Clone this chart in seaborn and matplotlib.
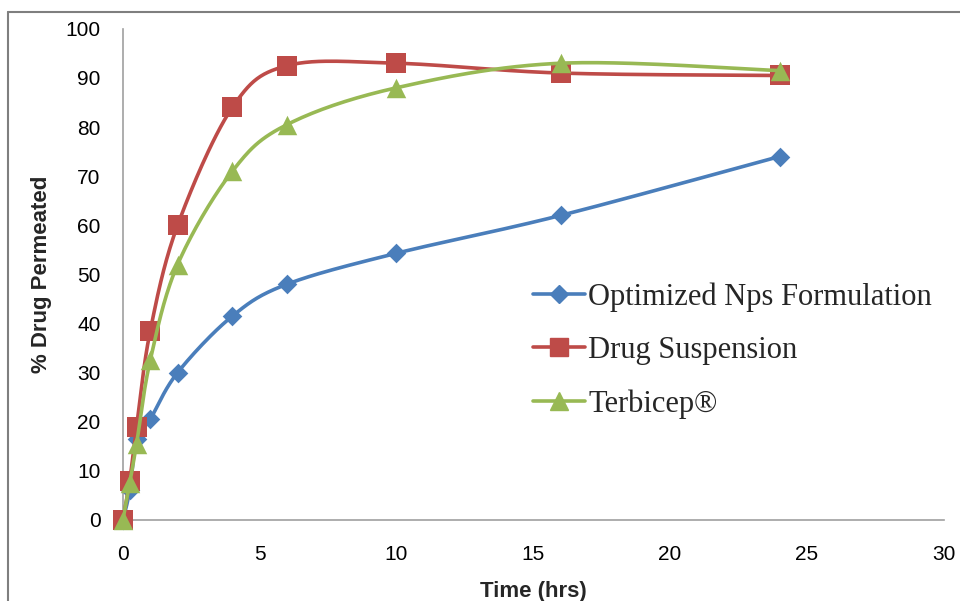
import numpy as np
import pandas as pd
import matplotlib
matplotlib.use("Agg")
import matplotlib.pyplot as plt
from matplotlib.lines import Line2D
import seaborn as sns

# Data
time_hrs = [0, 0.25, 0.5, 1, 2, 4, 6, 10, 16, 24]
optimized_nps = [0, 6, 16.5, 20.5, 30, 41.5, 48, 54.3, 62, 74]
drug_suspension = [0, 8, 19, 38.5, 60, 84, 92.5, 93, 91, 90.5]
terbicep = [0, 7.5, 15.5, 32.5, 52, 71, 80.5, 88, 93, 91.5]

series_names = ["Optimized Nps Formulation", "Drug Suspension", "Terbicep®"]
series_values = [optimized_nps, drug_suspension, terbicep]
colors = ["#4A7EBB", "#BE4B48", "#98B954"]
markers = ["D", "s", "^"]
marker_sizes = [10, 14, 14]


def excel_smooth(x, y, n=30):
    # Bezier smoothing similar to Excel's "smoothed line"
    x = np.asarray(x, float)
    y = np.asarray(y, float)
    px = np.concatenate([[x[0]], x, [x[-1]]])
    py = np.concatenate([[y[0]], y, [y[-1]]])
    t = np.linspace(0, 1, n)
    xs, ys = [], []
    for i in range(1, len(px) - 2):
        p0 = np.array([px[i], py[i]])
        p1 = p0 + (np.array([px[i + 1], py[i + 1]]) - np.array([px[i - 1], py[i - 1]])) / 6
        p3 = np.array([px[i + 1], py[i + 1]])
        p2 = p3 - (np.array([px[i + 2], py[i + 2]]) - p0) / 6
        b = ((1 - t) ** 3)[:, None] * p0 + (3 * (1 - t) ** 2 * t)[:, None] * p1 \
            + (3 * (1 - t) * t ** 2)[:, None] * p2 + (t ** 3)[:, None] * p3
        xs.extend(b[:, 0])
        ys.extend(b[:, 1])
    return np.array(xs), np.array(ys)


sns.set_style("white")
plt.rcParams["font.family"] = ["Liberation Sans", "DejaVu Sans"]

fig = plt.figure(figsize=(9.6, 6.01), dpi=100)
ax = fig.add_axes([0.128, 0.135, 0.855, 0.817])

handles = []
for k, (name, vals) in enumerate(zip(series_names, series_values)):
    sx, sy = excel_smooth(time_hrs, vals)
    smooth = pd.DataFrame({"x": sx, "y": sy})
    pts = pd.DataFrame({"x": time_hrs, "y": vals})
    sns.lineplot(data=smooth, x="x", y="y", sort=False, estimator=None,
                 color=colors[k], lw=2.6, ax=ax, zorder=3 + 2 * k)
    sns.scatterplot(data=pts, x="x", y="y", marker=markers[k], color=colors[k],
                    s=marker_sizes[k] ** 2, edgecolor=colors[k], linewidth=0,
                    ax=ax, zorder=4 + 2 * k)
    handles.append(Line2D([], [], color=colors[k], lw=2.6, marker=markers[k],
                          markersize=marker_sizes[k] * 0.95, label=name))

for coll in ax.collections:
    coll.set_clip_on(False)

ax.set_xlim(0, 30)
ax.set_ylim(0, 100)
ax.set_xticks(range(0, 31, 5))
ax.set_yticks(range(0, 101, 10))

for side in ["top", "right"]:
    ax.spines[side].set_visible(False)
for side in ["left", "bottom"]:
    ax.spines[side].set_color("#A0A0A0")
    ax.spines[side].set_linewidth(1.2)
ax.tick_params(axis="both", labelsize=15, colors="#000000", length=0)
ax.tick_params(axis="x", pad=18)
ax.tick_params(axis="y", pad=16)

ax.set_xlabel("Time (hrs)", fontsize=16, fontweight="bold", labelpad=12)
ax.set_ylabel("% Drug Permeated", fontsize=16, fontweight="bold", labelpad=10)

leg = ax.legend(handles=handles, loc="upper left", bbox_to_anchor=(0.485, 0.509),
                frameon=False, prop={"family": "Liberation Serif", "size": 22},
                handlelength=1.7, handletextpad=0.1, labelspacing=0.8, borderaxespad=0)

# outer chart frame (partially cropped in reference)
fig.add_artist(Line2D([0.008, 1.0], [0.98, 0.98], transform=fig.transFigure, color="#7F7F7F", lw=1.5))
fig.add_artist(Line2D([0.008, 0.008], [0.0, 0.98], transform=fig.transFigure, color="#7F7F7F", lw=1.5))

fig.savefig("out.png", dpi=100)
